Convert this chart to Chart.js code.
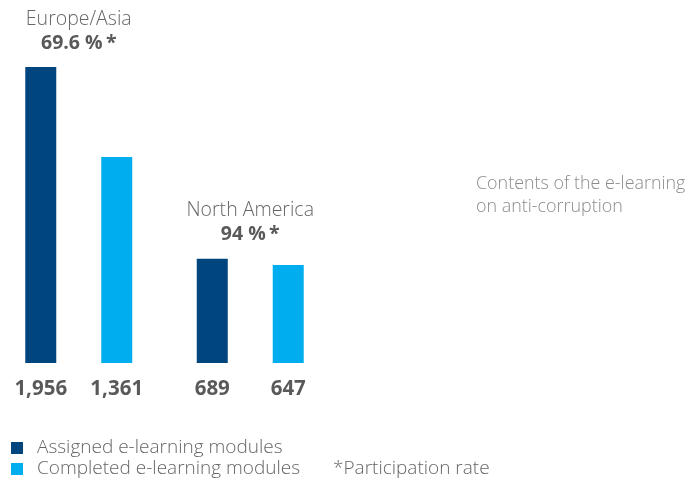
<!DOCTYPE html>
<html>
<head>
<meta charset="utf-8">
<script src="https://cdn.jsdelivr.net/npm/chart.js@4/dist/chart.umd.min.js"></script>
<style>
  html, body { margin: 0; padding: 0; background: #fff; }
  body { width: 690px; height: 487px; overflow: hidden; position: relative; }
  #wrap { position: absolute; left: -7px; top: 0; width: 697px; height: 487px; }
</style>
</head>
<body>
<div id="wrap"><canvas id="eChart"></canvas></div>
<script>
const regions = ["Europe/Asia", "North America"];
const participation = ["69.6 %\u2009*", "94 %\u2009*"];
const assigned = [1956, 689];
const completed = [1361, 647];
const seriesNames = ["Assigned e-learning modules", "Completed e-learning modules"];
const footNote = "*Participation rate";
const sideNote = ["Contents of the e-learning", "on anti-corruption"];

const navy = "#00457e";
const cyan = "#00adef";
const fontName = "'Open Sans', 'Noto Sans', sans-serif";

const labelPlugin = {
    id: 'labelPlugin',
    afterDatasetsDraw(chart) {
        const ctx = chart.ctx;
        const ox = 7; // canvas is shifted left by 7px
        ctx.save();
        ctx.textBaseline = 'middle';

        // region titles + rate above each group
        const first = chart.getDatasetMeta(0);
        first.data.forEach((bar, i) => {
            const cx = chart.scales.x.getPixelForValue(i);
            ctx.textAlign = 'center';
            ctx.fillStyle = '#666';
            ctx.font = '300 19.5px ' + fontName;
            ctx.fillText(regions[i], cx, bar.y - 48);
            ctx.fillStyle = '#595959';
            ctx.font = 'bold 19.5px ' + fontName;
            ctx.fillText(participation[i], cx, bar.y - 24);
        });

        // values under every bar
        chart.data.datasets.forEach((ds, d) => {
            chart.getDatasetMeta(d).data.forEach((bar, i) => {
                ctx.textAlign = 'center';
                ctx.fillStyle = '#595959';
                ctx.font = 'bold 20.5px ' + fontName;
                ctx.fillText(ds.data[i].toLocaleString('en-US'), bar.x, bar.base + 26);
            });
        });

        // legend
        ctx.textAlign = 'left';
        chart.data.datasets.forEach((ds, d) => {
            const y = 448 + d * 21;
            ctx.fillStyle = ds.backgroundColor;
            ctx.fillRect(ox + 11, y - 6, 12, 12);
            ctx.fillStyle = '#666';
            ctx.font = '300 19px ' + fontName;
            ctx.fillText(ds.label, ox + 37, y);
        });
        ctx.fillText(footNote, ox + 333, 469);

        // side note
        ctx.fillStyle = '#8c8c8c';
        ctx.font = '300 17.9px ' + fontName;
        sideNote.forEach((line, i) => ctx.fillText(line, ox + 476, 184 + i * 23));

        ctx.restore();
    }
};

document.addEventListener('DOMContentLoaded', function() {
    const ctx = document.getElementById('eChart').getContext('2d');
    new Chart(ctx, {
        type: 'bar',
        data: {
            labels: regions,
            datasets: [
                { label: seriesNames[0], data: assigned, backgroundColor: navy },
                { label: seriesNames[1], data: completed, backgroundColor: cyan }
            ]
        },
        options: {
            responsive: true,
            maintainAspectRatio: false,
            animation: false,
            layout: { padding: { left: 0, right: 354, top: 67, bottom: 124 } },
            datasets: { bar: { categoryPercentage: 0.886, barPercentage: 0.408 } },
            plugins: { legend: { display: false }, tooltip: { enabled: false } },
            scales: {
                x: { display: false },
                y: { display: false, min: 0, max: 1956 }
            }
        },
        plugins: [labelPlugin]
    });
});
</script>
</body>
</html>
